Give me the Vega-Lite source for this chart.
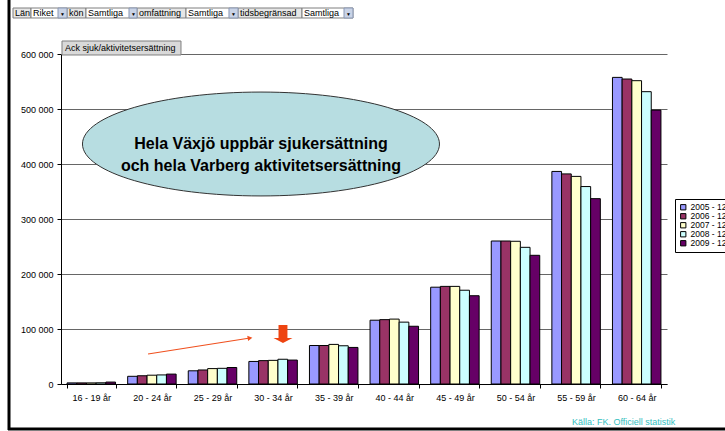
{
  "$schema": "https://vega.github.io/schema/vega-lite/v6.json",
  "width": 606,
  "height": 330,
  "autosize": {"type": "none"},
  "padding": {"left": 61, "top": 54, "right": 58, "bottom": 47},
  "background": "white",
  "config": {
    "font": "Liberation Sans",
    "view": {"stroke": null},
    "locale": {"number": {"decimal": ",", "thousands": " ", "grouping": [3], "currency": ["", " kr"]}}
  },
  "datasets": {
    "bars": [
      {"age": "16 - 19 år", "period": "2005 - 12", "value": 2000},
      {"age": "16 - 19 år", "period": "2006 - 12", "value": 2000},
      {"age": "16 - 19 år", "period": "2007 - 12", "value": 2000},
      {"age": "16 - 19 år", "period": "2008 - 12", "value": 2200},
      {"age": "16 - 19 år", "period": "2009 - 12", "value": 3500},
      {"age": "20 - 24 år", "period": "2005 - 12", "value": 14000},
      {"age": "20 - 24 år", "period": "2006 - 12", "value": 15000},
      {"age": "20 - 24 år", "period": "2007 - 12", "value": 16000},
      {"age": "20 - 24 år", "period": "2008 - 12", "value": 16500},
      {"age": "20 - 24 år", "period": "2009 - 12", "value": 18000},
      {"age": "25 - 29 år", "period": "2005 - 12", "value": 24000},
      {"age": "25 - 29 år", "period": "2006 - 12", "value": 25500},
      {"age": "25 - 29 år", "period": "2007 - 12", "value": 28000},
      {"age": "25 - 29 år", "period": "2008 - 12", "value": 28500},
      {"age": "25 - 29 år", "period": "2009 - 12", "value": 30000},
      {"age": "30 - 34 år", "period": "2005 - 12", "value": 41000},
      {"age": "30 - 34 år", "period": "2006 - 12", "value": 42500},
      {"age": "30 - 34 år", "period": "2007 - 12", "value": 43000},
      {"age": "30 - 34 år", "period": "2008 - 12", "value": 45000},
      {"age": "30 - 34 år", "period": "2009 - 12", "value": 43500},
      {"age": "35 - 39 år", "period": "2005 - 12", "value": 70000},
      {"age": "35 - 39 år", "period": "2006 - 12", "value": 70000},
      {"age": "35 - 39 år", "period": "2007 - 12", "value": 72000},
      {"age": "35 - 39 år", "period": "2008 - 12", "value": 69500},
      {"age": "35 - 39 år", "period": "2009 - 12", "value": 66500},
      {"age": "40 - 44 år", "period": "2005 - 12", "value": 116000},
      {"age": "40 - 44 år", "period": "2006 - 12", "value": 117000},
      {"age": "40 - 44 år", "period": "2007 - 12", "value": 118000},
      {"age": "40 - 44 år", "period": "2008 - 12", "value": 112500},
      {"age": "40 - 44 år", "period": "2009 - 12", "value": 105000},
      {"age": "45 - 49 år", "period": "2005 - 12", "value": 176000},
      {"age": "45 - 49 år", "period": "2006 - 12", "value": 177500},
      {"age": "45 - 49 år", "period": "2007 - 12", "value": 177500},
      {"age": "45 - 49 år", "period": "2008 - 12", "value": 170500},
      {"age": "45 - 49 år", "period": "2009 - 12", "value": 160500},
      {"age": "50 - 54 år", "period": "2005 - 12", "value": 260000},
      {"age": "50 - 54 år", "period": "2006 - 12", "value": 260000},
      {"age": "50 - 54 år", "period": "2007 - 12", "value": 259500},
      {"age": "50 - 54 år", "period": "2008 - 12", "value": 248500},
      {"age": "50 - 54 år", "period": "2009 - 12", "value": 234000},
      {"age": "55 - 59 år", "period": "2005 - 12", "value": 386500},
      {"age": "55 - 59 år", "period": "2006 - 12", "value": 382000},
      {"age": "55 - 59 år", "period": "2007 - 12", "value": 377500},
      {"age": "55 - 59 år", "period": "2008 - 12", "value": 359000},
      {"age": "55 - 59 år", "period": "2009 - 12", "value": 337000},
      {"age": "60 - 64 år", "period": "2005 - 12", "value": 557500},
      {"age": "60 - 64 år", "period": "2006 - 12", "value": 554500},
      {"age": "60 - 64 år", "period": "2007 - 12", "value": 551500},
      {"age": "60 - 64 år", "period": "2008 - 12", "value": 531500},
      {"age": "60 - 64 år", "period": "2009 - 12", "value": 498000}
    ],
    "callout": [
      {"xu": 3.3, "yv": 436364, "text": "Hela Växjö uppbär sjukersättning\noch hela Varberg aktivitetsersättning"}
    ],
    "arrow": [
      {"x1": 1.436, "y1": 54545, "x2": 3.119, "y2": 83636}
    ],
    "downarrow": [
      {"xu": 3.663, "yv": 90909}
    ],
    "filters": [
      {"name": "Län", "kind": "label", "x0": -0.792, "x1": -0.495, "top": 683636, "bottom": 665455, "mid": 674545},
      {"name": "Riket", "kind": "value", "x0": -0.495, "x1": 0.099, "b0": -0.0495, "top": 683636, "bottom": 665455, "mid": 674545},
      {"name": "kön", "kind": "label", "x0": 0.099, "x1": 0.4125, "top": 683636, "bottom": 665455, "mid": 674545},
      {"name": "Samtliga", "kind": "value", "x0": 0.4125, "x1": 1.254, "b0": 1.122, "top": 683636, "bottom": 665455, "mid": 674545},
      {"name": "omfattning", "kind": "label", "x0": 1.254, "x1": 2.063, "top": 683636, "bottom": 665455, "mid": 674545},
      {"name": "Samtliga", "kind": "value", "x0": 2.063, "x1": 2.921, "b0": 2.772, "top": 683636, "bottom": 665455, "mid": 674545},
      {"name": "tidsbegränsad", "kind": "label", "x0": 2.921, "x1": 3.977, "top": 683636, "bottom": 665455, "mid": 674545},
      {"name": "Samtliga", "kind": "value", "x0": 3.977, "x1": 4.818, "b0": 4.670, "top": 683636, "bottom": 665455, "mid": 674545}
    ],
    "button": [
      {"name": "Ack sjuk/aktivitetsersättning", "x0": 0.0165, "x1": 1.98, "top": 623636, "bottom": 598182, "mid": 610909}
    ],
    "source": [
      {"name": "Källa: FK. Officiell statistik", "xu": 8.432, "yv": -69091}
    ],
    "borders": [
      {"x1": -0.858, "x2": -0.858, "y1": 698182, "y2": -83636},
      {"x1": -0.875, "x2": 10.96, "y1": -81818, "y2": -81818}
    ]
  },
  "layer": [
    {
      "data": {"name": "bars"},
      "mark": {"type": "bar", "stroke": "black", "strokeWidth": 1},
      "encoding": {
        "x": {
          "field": "age", "type": "nominal", "sort": null,
          "scale": {"paddingInner": 0.2, "paddingOuter": 0.1},
          "axis": {"title": null, "labelAngle": 0, "tickBand": "extent", "labelFontSize": 9, "labelColor": "black", "domainColor": "black", "tickColor": "black", "tickSize": 4, "labelPadding": 5, "grid": false}
        },
        "xOffset": {"field": "period", "type": "nominal", "sort": null, "scale": {"paddingInner": 0, "paddingOuter": 0}},
        "y": {
          "field": "value", "type": "quantitative",
          "scale": {"domain": [0, 600000], "nice": false},
          "axis": {"title": null, "values": [0, 100000, 200000, 300000, 400000, 500000, 600000], "format": ",d", "labelFontSize": 9, "labelColor": "black", "domainColor": "black", "tickColor": "black", "tickSize": 4, "labelPadding": 4, "grid": true, "gridColor": "#666666", "gridWidth": 1}
        },
        "color": {
          "field": "period", "type": "nominal", "sort": null,
          "scale": {"domain": ["2005 - 12", "2006 - 12", "2007 - 12", "2008 - 12", "2009 - 12"], "range": ["#9999ff", "#993366", "#ffffcc", "#ccffff", "#660066"]},
          "legend": {"orient": "none", "legendX": 614, "legendY": 145, "title": null, "strokeColor": "black", "fillColor": "white", "padding": 4, "symbolType": "square", "symbolSize": 28, "symbolStrokeColor": "black", "symbolStrokeWidth": 1, "labelFontSize": 8.5, "labelColor": "black", "rowPadding": -1, "labelOffset": 3}
        }
      }
    },
    {
      "data": {"name": "callout"},
      "mark": {"type": "point", "shape": "M-1,0 A1,0.291 0 1,1 1,0 A1,0.291 0 1,1 -1,0 Z", "size": 127449, "filled": true, "fill": "#b7dde1", "fillOpacity": 1, "stroke": "#333333", "strokeWidth": 1, "opacity": 1},
      "encoding": {
        "x": {"field": "xu", "type": "quantitative", "scale": {"domain": [0, 10], "nice": false, "zero": false}, "axis": null},
        "y": {"field": "yv", "type": "quantitative", "scale": {"domain": [0, 600000], "nice": false, "zero": false}, "axis": null}
      }
    },
    {
      "data": {"name": "callout"},
      "mark": {"type": "text", "fontSize": 16, "fontWeight": "bold", "lineBreak": "\n", "lineHeight": 22, "align": "center", "baseline": "middle", "color": "black"},
      "encoding": {
        "x": {"field": "xu", "type": "quantitative", "scale": {"domain": [0, 10], "nice": false, "zero": false}, "axis": null},
        "y": {"field": "yv", "type": "quantitative", "scale": {"domain": [0, 600000], "nice": false, "zero": false}, "axis": null},
        "text": {"field": "text"}
      }
    },
    {
      "data": {"name": "arrow"},
      "mark": {"type": "rule", "color": "#f0501e", "strokeWidth": 1.2},
      "encoding": {
        "x": {"field": "x1", "type": "quantitative", "scale": {"domain": [0, 10], "nice": false, "zero": false}, "axis": null},
        "x2": {"field": "x2"},
        "y": {"field": "y1", "type": "quantitative", "scale": {"domain": [0, 600000], "nice": false, "zero": false}, "axis": null},
        "y2": {"field": "y2"}
      }
    },
    {
      "data": {"name": "arrow"},
      "mark": {"type": "point", "shape": "triangle-right", "size": 30, "filled": true, "color": "#f0501e", "angle": -8.4, "opacity": 1},
      "encoding": {
        "x": {"field": "x2", "type": "quantitative", "scale": {"domain": [0, 10], "nice": false, "zero": false}, "axis": null},
        "y": {"field": "y2", "type": "quantitative", "scale": {"domain": [0, 600000], "nice": false, "zero": false}, "axis": null}
      }
    },
    {
      "data": {"name": "downarrow"},
      "mark": {"type": "point", "shape": "M-0.47,-0.95 L0.47,-0.95 L0.47,0.42 L1,0.42 L0,0.95 L-1,0.42 L-0.47,0.42 Z", "size": 361, "filled": true, "color": "#ee4411", "opacity": 1},
      "encoding": {
        "x": {"field": "xu", "type": "quantitative", "scale": {"domain": [0, 10], "nice": false, "zero": false}, "axis": null},
        "y": {"field": "yv", "type": "quantitative", "scale": {"domain": [0, 600000], "nice": false, "zero": false}, "axis": null}
      }
    },
    {
      "data": {"name": "filters"},
      "mark": {"type": "rect", "stroke": "#7f7f7f", "strokeWidth": 1},
      "encoding": {
        "x": {"field": "x0", "type": "quantitative", "scale": {"domain": [0, 10], "nice": false, "zero": false}, "axis": null},
        "x2": {"field": "x1"},
        "y": {"field": "top", "type": "quantitative", "scale": {"domain": [0, 600000], "nice": false, "zero": false}, "axis": null},
        "y2": {"field": "bottom"},
        "fill": {"condition": {"test": "datum.kind === 'label'", "value": "#e6e6e6"}, "value": "white"}
      }
    },
    {
      "data": {"name": "filters"},
      "transform": [{"filter": "datum.kind === 'value'"}],
      "mark": {"type": "rect", "fill": "#c9d3e6", "stroke": "#8a98b4", "strokeWidth": 1},
      "encoding": {
        "x": {"field": "b0", "type": "quantitative", "scale": {"domain": [0, 10], "nice": false, "zero": false}, "axis": null},
        "x2": {"field": "x1"},
        "y": {"field": "top", "type": "quantitative", "scale": {"domain": [0, 600000], "nice": false, "zero": false}, "axis": null},
        "y2": {"field": "bottom"}
      }
    },
    {
      "data": {"name": "filters"},
      "transform": [{"filter": "datum.kind === 'value'"}],
      "mark": {"type": "text", "text": "▼", "fontSize": 5, "align": "center", "baseline": "middle", "dx": 4.5, "dy": 1, "color": "black"},
      "encoding": {
        "x": {"field": "b0", "type": "quantitative", "scale": {"domain": [0, 10], "nice": false, "zero": false}, "axis": null},
        "y": {"field": "mid", "type": "quantitative", "scale": {"domain": [0, 600000], "nice": false, "zero": false}, "axis": null}
      }
    },
    {
      "data": {"name": "filters"},
      "mark": {"type": "text", "fontSize": 9, "align": "left", "baseline": "middle", "dx": 2, "color": "black"},
      "encoding": {
        "x": {"field": "x0", "type": "quantitative", "scale": {"domain": [0, 10], "nice": false, "zero": false}, "axis": null},
        "y": {"field": "mid", "type": "quantitative", "scale": {"domain": [0, 600000], "nice": false, "zero": false}, "axis": null},
        "text": {"field": "name"}
      }
    },
    {
      "data": {"name": "button"},
      "mark": {"type": "rect", "fill": "#d9d9d9", "stroke": "#7f7f7f", "strokeWidth": 1},
      "encoding": {
        "x": {"field": "x0", "type": "quantitative", "scale": {"domain": [0, 10], "nice": false, "zero": false}, "axis": null},
        "x2": {"field": "x1"},
        "y": {"field": "top", "type": "quantitative", "scale": {"domain": [0, 600000], "nice": false, "zero": false}, "axis": null},
        "y2": {"field": "bottom"}
      }
    },
    {
      "data": {"name": "button"},
      "mark": {"type": "text", "fontSize": 9, "align": "left", "baseline": "middle", "dx": 3, "color": "black"},
      "encoding": {
        "x": {"field": "x0", "type": "quantitative", "scale": {"domain": [0, 10], "nice": false, "zero": false}, "axis": null},
        "y": {"field": "mid", "type": "quantitative", "scale": {"domain": [0, 600000], "nice": false, "zero": false}, "axis": null},
        "text": {"field": "name"}
      }
    },
    {
      "data": {"name": "source"},
      "mark": {"type": "text", "fontSize": 9, "align": "left", "baseline": "middle", "color": "#33c0c0"},
      "encoding": {
        "x": {"field": "xu", "type": "quantitative", "scale": {"domain": [0, 10], "nice": false, "zero": false}, "axis": null},
        "y": {"field": "yv", "type": "quantitative", "scale": {"domain": [0, 600000], "nice": false, "zero": false}, "axis": null},
        "text": {"field": "name"}
      }
    },
    {
      "data": {"name": "borders"},
      "mark": {"type": "rule", "color": "black", "strokeWidth": 3},
      "encoding": {
        "x": {"field": "x1", "type": "quantitative", "scale": {"domain": [0, 10], "nice": false, "zero": false}, "axis": null},
        "x2": {"field": "x2"},
        "y": {"field": "y1", "type": "quantitative", "scale": {"domain": [0, 600000], "nice": false, "zero": false}, "axis": null},
        "y2": {"field": "y2"}
      }
    }
  ],
  "resolve": {"scale": {"x": "independent", "y": "independent"}}
}
